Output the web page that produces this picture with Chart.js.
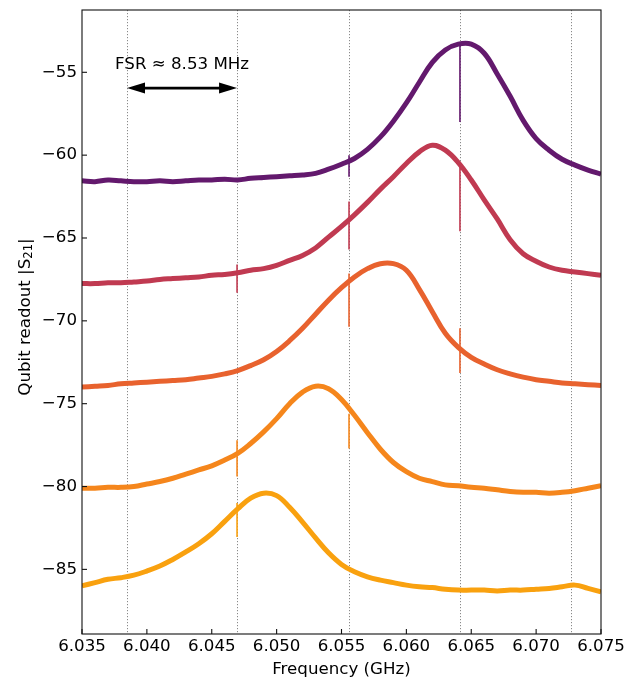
<!DOCTYPE html>
<html>
<head>
<meta charset="utf-8">
<script src="https://cdn.jsdelivr.net/npm/chart.js@4.4.1/dist/chart.umd.min.js"></script>
<style>
  body { margin: 0; background: #fff; }
</style>
</head>
<body>
<canvas id="chart" width="635" height="680"></canvas>
<script>
// frequency grid (GHz)
const freqs = [6.035, 6.036, 6.037, 6.038, 6.039, 6.040, 6.041, 6.042, 6.043, 6.044,
               6.045, 6.046, 6.047, 6.048, 6.049, 6.050, 6.051, 6.052, 6.053, 6.054,
               6.055, 6.056, 6.057, 6.058, 6.059, 6.060, 6.061, 6.062, 6.063, 6.064,
               6.065, 6.066, 6.067, 6.068, 6.069, 6.070, 6.071, 6.072, 6.073, 6.074, 6.075];

// |S21| traces, top to bottom
const purple = [-61.55, -61.6, -61.5, -61.55, -61.6, -61.6, -61.55, -61.6, -61.55, -61.5,
                -61.5, -61.45, -61.5, -61.4, -61.35, -61.3, -61.25, -61.2, -61.1, -60.85,
                -60.55, -60.2, -59.65, -58.9, -57.95, -56.85, -55.6, -54.4, -53.65, -53.3,
                -53.3, -53.85, -55.1, -56.45, -57.9, -59.0, -59.7, -60.25, -60.6, -60.9, -61.15];
const crimson = [-67.75, -67.75, -67.7, -67.7, -67.65, -67.6, -67.5, -67.45, -67.4, -67.35,
                 -67.25, -67.2, -67.1, -66.95, -66.85, -66.65, -66.35, -66.05, -65.6, -64.95,
                 -64.3, -63.6, -62.85, -62.05, -61.3, -60.5, -59.8, -59.4, -59.7, -60.45,
                 -61.5, -62.7, -63.85, -65.1, -65.95, -66.4, -66.75, -66.95, -67.05, -67.15, -67.25];
const orangeRed = [-74.0, -73.95, -73.9, -73.8, -73.75, -73.7, -73.65, -73.6, -73.55, -73.45,
                   -73.35, -73.2, -73.0, -72.7, -72.35, -71.85, -71.2, -70.45, -69.6, -68.75,
                   -68.0, -67.35, -66.85, -66.55, -66.55, -66.95, -68.1, -69.45, -70.75, -71.6,
                   -72.2, -72.6, -72.95, -73.2, -73.4, -73.55, -73.65, -73.75, -73.8, -73.85, -73.9];
const orange = [-80.1, -80.1, -80.05, -80.05, -80.0, -79.85, -79.7, -79.5, -79.25, -79.0,
                -78.75, -78.4, -78.0, -77.4, -76.7, -75.9, -75.0, -74.3, -73.95, -74.1,
                -74.75, -75.7, -76.75, -77.75, -78.55, -79.1, -79.5, -79.7, -79.9, -79.95,
                -80.05, -80.1, -80.2, -80.3, -80.35, -80.35, -80.4, -80.35, -80.25, -80.1, -79.95];
const yellow = [-86.0, -85.8, -85.6, -85.5, -85.35, -85.1, -84.8, -84.4, -83.95, -83.45,
                -82.85, -82.1, -81.35, -80.7, -80.4, -80.55, -81.25, -82.15, -83.1, -84.0,
                -84.7, -85.15, -85.45, -85.65, -85.8, -85.95, -86.05, -86.1, -86.2, -86.25,
                -86.25, -86.25, -86.3, -86.25, -86.25, -86.2, -86.15, -86.05, -85.95, -86.15, -86.35];

// narrow dips at the cavity modes: [freq, low, high]
const purpleSpikes = [[6.05558, -61.3, -60.0], [6.06413, -58.0, -53.3]];
const crimsonSpikes = [[6.04695, -68.3, -66.6], [6.05558, -65.7, -62.8], [6.06413, -64.6, -60.4]];
const orangeRedSpikes = [[6.05558, -70.35, -67.15], [6.06413, -73.15, -70.45]];
const orangeSpikes = [[6.04695, -79.4, -77.2], [6.05558, -77.7, -75.6]];
const yellowSpikes = [[6.04695, -83.05, -81.0]];

// cavity mode positions (dotted lines) and FSR annotation
const fsrLines = [6.03847, 6.04695, 6.05558, 6.06413, 6.07269];
const fsrText = 'FSR \u2248 8.53 MHz';
const arrowY = -55.95;
const fsrTextY = -54.55;

const xTicks = [6.035, 6.040, 6.045, 6.050, 6.055, 6.060, 6.065, 6.070, 6.075];
const yTicks = [-85, -80, -75, -70, -65, -60, -55];

const FONT = 'DejaVu Sans';
const FS = 16.67;

const traces = [
  { values: purple, spikes: purpleSpikes, color: '#63196d' },
  { values: crimson, spikes: crimsonSpikes, color: '#c03a51' },
  { values: orangeRed, spikes: orangeRedSpikes, color: '#e8622e' },
  { values: orange, spikes: orangeSpikes, color: '#f5861c' },
  { values: yellow, spikes: yellowSpikes, color: '#f9a10f' },
];

const datasets = [];
traces.forEach(t => {
  datasets.push({
    data: freqs.map((f, i) => ({ x: f, y: t.values[i] })),
    borderColor: t.color,
    borderWidth: 5,
    pointRadius: 0,
    tension: 0.4,
    clip: 0,
  });
  t.spikes.forEach(s => {
    datasets.push({
      data: [{ x: s[0], y: s[1] }, { x: s[0], y: s[2] }],
      borderColor: t.color,
      borderWidth: 1.6,
      pointRadius: 0,
      clip: 0,
    });
  });
});

const decorations = {
  id: 'decorations',
  beforeDatasetsDraw(chart) {
    const { ctx, chartArea: a, scales: { x } } = chart;
    ctx.save();
    ctx.strokeStyle = '#8a8a8a';
    ctx.lineWidth = 1;
    ctx.setLineDash([1.2, 1.8]);
    fsrLines.forEach(f => {
      const px = Math.round(x.getPixelForValue(f)) + 0.5;
      ctx.beginPath();
      ctx.moveTo(px, a.top);
      ctx.lineTo(px, a.bottom);
      ctx.stroke();
    });
    ctx.restore();
  },
  afterDatasetsDraw(chart) {
    const { ctx, chartArea: a, scales: { x, y } } = chart;
    ctx.save();

    // double-headed arrow between the first two modes
    const x1 = x.getPixelForValue(fsrLines[0]);
    const x2 = x.getPixelForValue(fsrLines[1]);
    const ay = y.getPixelForValue(arrowY);
    const head = 18, half = 5.5;
    ctx.strokeStyle = '#000';
    ctx.fillStyle = '#000';
    ctx.lineWidth = 2.8;
    ctx.beginPath();
    ctx.moveTo(x1 + head - 2, ay);
    ctx.lineTo(x2 - head + 2, ay);
    ctx.stroke();
    ctx.beginPath();
    ctx.moveTo(x1, ay);
    ctx.lineTo(x1 + head, ay - half);
    ctx.lineTo(x1 + head, ay + half);
    ctx.closePath();
    ctx.fill();
    ctx.beginPath();
    ctx.moveTo(x2, ay);
    ctx.lineTo(x2 - head, ay - half);
    ctx.lineTo(x2 - head, ay + half);
    ctx.closePath();
    ctx.fill();

    ctx.font = FS + 'px "' + FONT + '"';
    ctx.textAlign = 'center';
    ctx.textBaseline = 'middle';
    ctx.fillText(fsrText, (x1 + x2) / 2, y.getPixelForValue(fsrTextY));

    // frame
    ctx.lineWidth = 1.1;
    ctx.strokeStyle = '#111';
    ctx.strokeRect(a.left, a.top, a.right - a.left, a.bottom - a.top);

    // inward ticks
    xTicks.forEach(v => {
      const px = x.getPixelForValue(v);
      ctx.beginPath();
      ctx.moveTo(px, a.bottom);
      ctx.lineTo(px, a.bottom - 5);
      ctx.stroke();
    });
    yTicks.forEach(v => {
      const py = y.getPixelForValue(v);
      ctx.beginPath();
      ctx.moveTo(a.left, py);
      ctx.lineTo(a.left + 5, py);
      ctx.stroke();
    });

    // y-axis label with a real subscript
    const main = 'Qubit readout |S', sub = '21', end = '|';
    const subFont = (FS * 0.7).toFixed(2) + 'px "' + FONT + '"';
    ctx.font = FS + 'px "' + FONT + '"';
    const w1 = ctx.measureText(main).width;
    const w3 = ctx.measureText(end).width;
    ctx.font = subFont;
    const w2 = ctx.measureText(sub).width;
    const total = w1 + w2 + w3;
    ctx.translate(29.5, 317);
    ctx.rotate(-Math.PI / 2);
    ctx.textAlign = 'left';
    ctx.textBaseline = 'alphabetic';
    ctx.fillStyle = '#000';
    let cx = -total / 2;
    ctx.font = FS + 'px "' + FONT + '"';
    ctx.fillText(main, cx, 0);
    cx += w1;
    ctx.font = subFont;
    ctx.fillText(sub, cx, 2.5);
    cx += w2;
    ctx.font = FS + 'px "' + FONT + '"';
    ctx.fillText(end, cx, 0);
    ctx.restore();
  }
};

new Chart(document.getElementById('chart'), {
  type: 'line',
  data: { datasets },
  options: {
    responsive: false,
    animation: false,
    devicePixelRatio: 1,
    layout: { padding: { top: 10, right: 34, left: 0, bottom: 0 } },
    plugins: { legend: { display: false }, tooltip: { enabled: false } },
    scales: {
      x: {
        type: 'linear',
        min: 6.035,
        max: 6.075,
        afterBuildTicks: s => { s.ticks = xTicks.map(v => ({ value: v })); },
        afterFit: s => { s.height = 46; s.paddingLeft = 0; s.paddingRight = 0; },
        grid: { display: false, drawTicks: false },
        border: { display: false },
        ticks: {
          padding: 3,
          maxRotation: 0,
          autoSkip: false,
          color: '#000',
          font: { family: FONT, size: FS },
          callback: v => v.toFixed(3),
        },
        title: {
          display: true,
          text: 'Frequency (GHz)',
          color: '#000',
          font: { family: FONT, size: FS },
          padding: { top: 3, bottom: 0 },
        },
      },
      y: {
        type: 'linear',
        min: -88.9,
        max: -51.24,
        afterBuildTicks: s => { s.ticks = yTicks.map(v => ({ value: v })); },
        afterFit: s => { s.width = 82; s.paddingTop = 0; s.paddingBottom = 0; },
        grid: { display: false, drawTicks: false },
        border: { display: false },
        ticks: {
          padding: 5,
          autoSkip: false,
          color: '#000',
          font: { family: FONT, size: FS },
          callback: v => '\u2212' + Math.abs(v),
        },
        title: { display: false },
      },
    },
  },
  plugins: [decorations],
});
</script>
</body>
</html>
